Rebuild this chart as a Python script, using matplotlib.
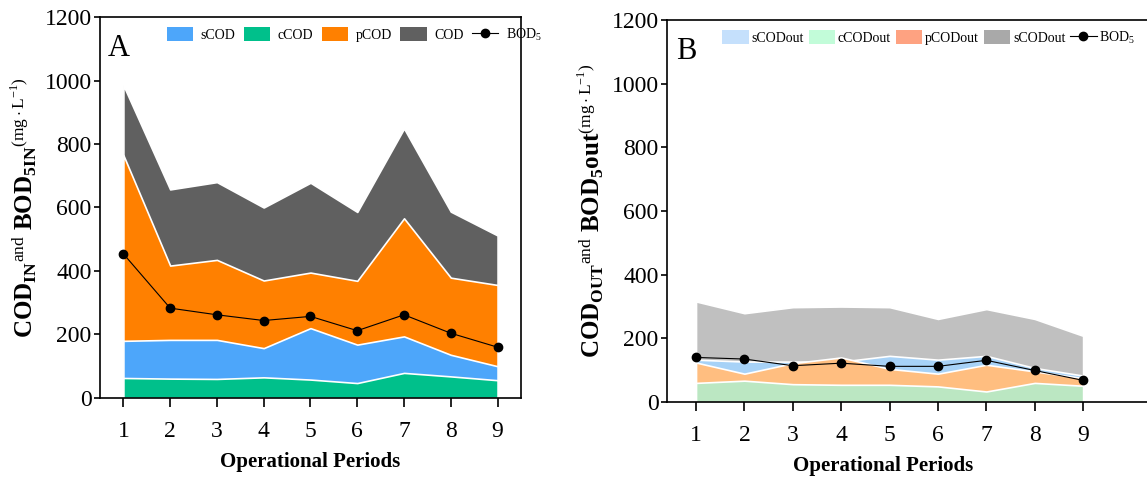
import matplotlib
matplotlib.use("Agg")
import matplotlib.pyplot as plt
from matplotlib.patches import Patch
from matplotlib.lines import Line2D

periods = [1, 2, 3, 4, 5, 6, 7, 8, 9]

# panel A: upper edge of each area (mg/L), areas overlap from 0
cod_in = [985, 657, 680, 600, 678, 586, 849, 587, 512]
pcod_in_top = [765, 417, 435, 370, 395, 369, 566, 379, 356]
scod_in_top = [180, 183, 183, 157, 220, 168, 194, 136, 100]
ccod_in_top = [63, 61, 60, 65, 58, 47, 79, 68, 56]
bod_in = [454, 283, 262, 244, 257, 212, 262, 204, 160]

# panel B: upper edge of each area (mg/L)
cod_out = [316, 279, 298, 300, 298, 261, 292, 261, 208]
scod_out_top = [133, 127, 127, 127, 145, 133, 145, 107, 83]
pcod_out_top = [124, 89, 122, 140, 104, 89, 117, 96, 75]
ccod_out_top = [60, 67, 56, 54, 54, 49, 33, 60, 51]
bod_out = [140, 135, 114, 122, 112, 112, 131, 99, 68]

plt.rcParams.update({
    "font.family": "Liberation Serif",
    "mathtext.fontset": "custom",
    "mathtext.rm": "Liberation Serif",
    "mathtext.bf": "Liberation Serif:bold",
    "mathtext.it": "Liberation Serif:italic",
    "font.size": 14,
})

fig = plt.figure(figsize=(11.47, 4.78), dpi=100)
ax_a = fig.add_axes([0.0872, 0.1674, 0.367, 0.797])
ax_b = fig.add_axes([0.5815, 0.159, 0.4185, 0.799])


def draw_areas(ax, tops, colors):
    for top, col in zip(tops, colors):
        ax.fill_between(periods, 0, top, facecolor=col, edgecolor="white", linewidth=1.2)


def style(ax, xlim):
    ax.set_xlim(*xlim)
    ax.set_ylim(0, 1200)
    ax.set_xticks(periods)
    ax.set_yticks(range(0, 1201, 200))
    ax.tick_params(direction="out", width=1.2, labelsize=17, top=False, right=False)
    ax.tick_params(axis="y", length=4, pad=2)
    ax.tick_params(axis="x", length=6.5, pad=10)
    for s in ax.spines.values():
        s.set_linewidth(1.2)
    ax.set_xlabel("Operational Periods", fontsize=15, fontweight="bold", labelpad=7)


legend_kw = dict(loc="upper left", ncol=5, frameon=False, fontsize=10,
                 handlelength=1.9, handleheight=1.1, borderaxespad=0.3)

# ---- A ----
draw_areas(ax_a, [cod_in, pcod_in_top, scod_in_top, ccod_in_top],
           ["#606060", "#ff8000", "#4da6fa", "#00c08b"])
ax_a.plot(periods, bod_in, color="black", linewidth=0.8, marker="o", markersize=6)
style(ax_a, (0.5, 9.5))
ax_a.set_ylabel(r"$\mathbf{COD_{IN}}$$^{\rm and}$ $\mathbf{BOD_{5IN}}$$^{\rm (mg\cdot L^{-1})}$",
                fontsize=18, labelpad=4)
ax_a.text(0.018, 0.955, "A", transform=ax_a.transAxes, fontsize=22, va="top")
handles_a = [
    Patch(facecolor="#4da6fa", edgecolor="none"),
    Patch(facecolor="#00c08b", edgecolor="none"),
    Patch(facecolor="#ff8000", edgecolor="none"),
    Patch(facecolor="#606060", edgecolor="none"),
    Line2D([], [], color="black", linewidth=0.8, marker="o", markersize=6),
]
ax_a.legend(handles_a, ["sCOD", "cCOD", "pCOD", "COD", r"BOD$_5$"],
            bbox_to_anchor=(0.135, 1.0), handletextpad=0.55, columnspacing=0.6, **legend_kw)

# ---- B ----
draw_areas(ax_b, [cod_out, scod_out_top, pcod_out_top, ccod_out_top],
           ["#c0c0c0", "#a7d2f7", "#ffbe80", "#bbe7c2"])
ax_b.plot(periods, bod_out, color="black", linewidth=0.8, marker="o", markersize=6)
style(ax_b, (0.4, 10.32))
ax_b.spines["right"].set_visible(False)
ax_b.xaxis.label.set_x(0.45)
ax_b.set_ylabel(r"$\mathbf{COD_{OUT}}$$^{\rm and}$ $\mathbf{BOD_{5}out}$$^{\rm (mg\cdot L^{-1})}$",
                fontsize=18, labelpad=4)
ax_b.text(0.018, 0.955, "B", transform=ax_b.transAxes, fontsize=22, va="top")
handles_b = [
    Patch(facecolor="#c5e0fc", edgecolor="none"),
    Patch(facecolor="#c2fcd9", edgecolor="none"),
    Patch(facecolor="#fea281", edgecolor="none"),
    Patch(facecolor="#a9a9a9", edgecolor="none"),
    Line2D([], [], color="black", linewidth=0.8, marker="o", markersize=6),
]
ax_b.legend(handles_b, ["sCODout", "cCODout", "pCODout", "sCODout", r"BOD$_5$"],
            bbox_to_anchor=(0.095, 1.0), handletextpad=0.2, columnspacing=0.35, **legend_kw)

fig.savefig("out.png", dpi=100)
